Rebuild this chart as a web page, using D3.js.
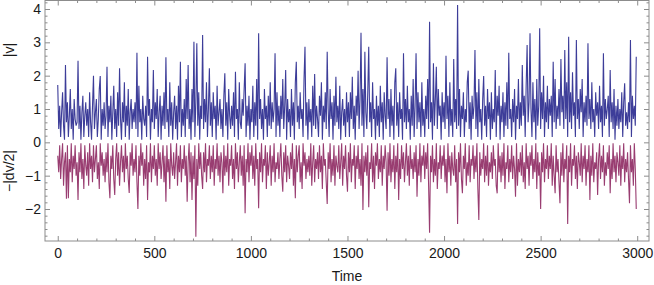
<!DOCTYPE html>
<html>
<head>
<meta charset="utf-8">
<script src="https://cdn.jsdelivr.net/npm/d3@7"></script>
<style>
  body { margin: 0; background: #fff; }
  text { font-family: "Liberation Sans", Arial, sans-serif; }
</style>
</head>
<body>
<svg class="chart-svg" width="654" height="285"></svg>
<script>
// samples every 5 time units, t = 0 .. 2995
var timeStep = 5;

var vAbs = [
  1.72,0.4,1.1,0.16,0.9,1.5,0.5,0.08,2.32,0.6,
  1.2,0.16,0.8,1.6,0.4,1.0,0.08,1.3,0.7,0.5,
  0.6,2.45,0.4,1.1,0.08,0.9,1.4,0.16,0.8,1.2,
  0.5,1.0,0.16,1.5,0.6,0.08,1.1,2.0,0.4,0.9,
  1.3,0.16,0.7,1.6,1.99,0.08,1.0,0.5,1.2,0.4,
  0.8,2.27,0.16,1.1,0.6,1.4,0.08,0.9,1.7,0.4,
  1.0,0.16,1.5,0.5,2.22,0.7,0.08,1.2,0.6,1.8,
  0.16,1.1,0.5,1.6,0.08,0.9,1.3,0.4,1.0,0.6,
  1.2,0.4,2.69,0.16,1.7,0.6,1.0,0.08,1.4,0.7,
  0.5,1.1,0.16,2.57,0.8,1.3,0.08,1.0,0.6,2.17,
  0.4,1.2,0.7,1.6,0.16,0.9,1.4,0.08,1.1,0.5,
  1.5,0.4,2.55,0.6,1.0,0.16,1.8,0.5,1.2,0.08,
  0.9,1.4,0.4,1.1,0.08,1.7,0.6,2.42,0.16,1.0,
  0.5,1.3,0.16,1.9,0.7,2.32,0.4,1.0,0.08,1.6,
  0.6,3.02,0.16,1.2,2.97,0.5,1.5,0.08,1.1,0.7,
  3.22,0.4,1.3,0.6,1.8,0.16,1.0,2.22,0.5,1.2,
  0.16,1.5,0.7,1.1,0.08,1.7,0.5,0.9,1.3,0.4,
  1.0,0.16,1.4,2.07,0.5,1.2,0.08,1.6,0.8,0.4,
  1.1,0.5,1.5,0.16,2.12,0.7,1.0,0.08,1.8,0.6,
  0.4,1.3,0.8,1.6,2.37,0.16,1.1,0.5,1.4,0.08,
  1.0,0.6,1.7,0.16,1.2,0.5,1.9,0.08,3.27,0.7,
  1.3,0.4,1.0,0.08,1.6,0.7,1.1,0.16,1.4,0.5,
  1.8,0.4,1.2,0.6,1.0,2.67,0.16,1.5,0.5,1.1,
  0.16,1.4,0.7,1.9,0.4,1.1,2.17,0.08,1.3,0.6,
  1.0,0.16,1.6,0.5,1.2,0.08,1.8,2.42,0.6,1.1,
  0.4,1.5,0.7,1.0,0.16,1.9,2.87,0.5,1.2,0.08,
  1.3,0.6,1.0,0.16,1.7,0.5,2.05,0.4,1.1,0.7,
  0.16,1.4,0.8,1.8,0.08,1.1,0.6,1.5,0.4,2.72,
  1.0,0.16,1.6,0.7,1.2,0.08,1.4,0.5,1.97,0.6,
  1.1,0.4,1.7,0.08,0.9,1.3,0.5,1.0,0.16,1.5,
  0.6,1.2,0.16,1.5,0.7,1.97,0.4,1.1,0.08,1.4,
  0.8,2.15,0.4,1.3,3.29,0.5,1.6,0.16,2.72,0.9,
  0.4,1.5,2.87,0.6,1.2,0.16,1.8,0.7,1.0,0.08,
  1.4,0.5,1.1,0.16,1.7,0.6,1.2,0.08,1.5,0.8,
  0.4,2.55,0.7,1.3,0.16,1.6,0.5,1.1,0.08,1.8,
  2.22,0.5,1.2,0.16,1.5,0.7,1.0,0.08,2.67,0.6,
  1.3,0.4,1.7,0.6,1.0,0.08,1.4,0.5,1.9,0.16,
  1.1,2.67,0.4,1.5,0.6,1.2,0.16,1.8,0.5,1.0,
  0.16,1.4,0.7,1.9,0.4,3.62,0.6,1.2,0.08,2.37,
  0.5,1.3,2.27,0.4,1.6,0.8,1.1,0.08,1.5,0.6,
  1.2,0.4,2.6,0.7,1.4,0.16,1.8,0.5,1.0,0.16,
  2.5,0.6,1.3,0.4,4.12,0.5,1.6,0.16,1.1,0.7,
  1.5,0.16,1.0,0.6,1.8,2.15,0.4,1.2,0.08,1.4,
  0.7,1.1,2.77,0.4,1.5,0.16,1.9,0.6,1.0,0.08,
  1.3,1.99,0.5,1.1,0.16,1.6,0.7,1.2,0.08,1.5,
  0.4,1.0,0.6,2.17,0.16,1.4,0.8,1.7,0.08,1.1,
  0.6,1.5,0.16,1.2,0.5,1.8,0.4,2.69,0.7,1.0,
  0.16,1.3,0.6,1.6,0.08,1.1,0.7,1.9,0.4,1.2,
  0.5,2.32,0.8,1.4,0.16,1.7,2.92,0.6,1.2,3.27,
  1.0,0.16,1.8,0.6,1.3,0.08,1.9,0.5,1.1,3.42,
  0.4,1.5,0.7,2.0,0.16,1.2,0.6,1.7,0.4,1.3,
  0.8,1.4,0.16,2.42,0.6,1.9,0.4,1.1,0.7,1.6,
  0.5,2.5,0.9,1.4,0.4,2.77,0.7,1.8,0.16,3.17,
  0.6,1.5,0.4,2.1,0.8,1.2,0.16,3.07,0.7,1.3,
  0.4,1.6,0.9,1.9,0.16,1.2,0.6,1.4,0.5,2.97,
  0.7,1.3,0.4,1.8,0.6,1.0,0.16,1.5,0.8,1.2,
  0.4,1.7,0.6,1.1,0.16,2.67,0.5,1.3,0.7,1.0,
  1.4,0.16,2.17,0.6,1.2,0.4,1.6,0.08,1.1,0.5,
  1.3,0.4,1.0,0.6,1.5,0.16,1.2,1.77,0.5,0.9,
  0.4,1.2,0.6,3.07,0.16,1.4,0.7,1.1,0.5,2.57
];

var dvHalf = [
  -0.4,-0.9,-0.09,-1.1,-0.5,-0.03,-1.3,-0.6,-0.3,-1.69,
  -0.09,-1.68,-0.5,-0.9,-0.03,-1.2,-0.4,-0.8,-0.09,-1.0,
  -0.6,-1.73,-0.3,-0.9,-0.03,-1.1,-0.5,-1.4,-0.09,-0.7,
  -1.0,-0.3,-1.3,-0.03,-0.8,-0.4,-1.2,-0.09,-0.9,-0.5,
  -0.09,-1.1,-0.6,-1.4,-0.03,-0.7,-0.3,-1.0,-0.5,-1.2,
  -0.3,-0.9,-0.03,-1.2,-1.68,-0.4,-0.8,-0.09,-1.1,-1.58,
  -0.5,-0.03,-1.0,-0.3,-1.3,-0.6,-0.09,-0.9,-0.4,-1.2,
  -0.03,-0.8,-0.4,-1.1,-1.52,-0.3,-0.7,-0.03,-1.0,-0.5,
  -0.9,-0.09,-1.2,-2.0,-0.4,-1.0,-0.03,-0.7,-0.3,-1.3,
  -0.5,-1.1,-0.09,-1.73,-0.6,-0.9,-0.03,-1.2,-0.4,-0.8,
  -0.09,-1.0,-0.5,-1.3,-0.03,-0.8,-0.3,-1.1,-0.6,-0.09,
  -1.2,-0.4,-1.78,-0.09,-0.9,-0.5,-1.4,-0.03,-0.7,-1.0,
  -0.3,-1.1,-0.6,-0.03,-1.3,-0.4,-0.9,-0.09,-1.2,-0.5,
  -0.8,-0.09,-1.0,-0.4,-1.78,-0.6,-0.03,-1.2,-0.3,-1.73,
  -0.4,-1.1,-0.09,-2.83,-0.5,-1.3,-0.03,-0.8,-0.3,-1.0,
  -1.4,-0.3,-0.9,-0.03,-1.2,-0.5,-0.7,-0.09,-1.1,-0.4,
  -0.9,-0.09,-1.3,-0.5,-0.8,-0.03,-1.0,-0.4,-1.2,-0.3,
  -0.6,-1.53,-0.09,-1.0,-0.4,-0.9,-0.03,-1.3,-0.5,-0.7,
  -0.09,-1.1,-0.5,-1.4,-0.03,-0.8,-0.3,-1.2,-0.6,-0.09,
  -1.0,-0.4,-1.3,-0.09,-2.13,-0.5,-0.9,-0.03,-1.2,-0.3,
  -0.7,-0.09,-1.1,-0.4,-1.3,-0.03,-0.8,-0.5,-1.98,-0.3,
  -0.9,-0.03,-1.2,-0.5,-0.7,-0.09,-1.4,-0.3,-1.0,-0.6,
  -0.09,-1.3,-0.4,-0.9,-0.03,-1.2,-0.6,-0.8,-0.3,-1.1,
  -0.5,-0.03,-1.0,-1.48,-0.3,-0.9,-0.09,-1.2,-0.4,-0.7,
  -1.1,-0.3,-0.8,-0.03,-1.3,-0.5,-1.68,-0.09,-0.9,-0.4,
  -0.09,-1.2,-0.6,-1.4,-0.03,-0.7,-0.3,-1.1,-0.5,-0.9,
  -0.4,-1.0,-0.03,-1.3,-0.6,-0.09,-1.2,-0.5,-0.8,-0.3,
  -1.1,-0.09,-0.9,-0.4,-1.4,-0.03,-0.7,-0.5,-1.2,-1.85,
  -0.3,-0.8,-0.03,-1.2,-0.5,-1.0,-0.09,-1.3,-0.4,-0.7,
  -0.9,-0.09,-1.1,-0.6,-0.03,-1.3,-0.4,-0.8,-0.09,-1.0,
  -1.48,-0.3,-0.9,-0.03,-1.2,-0.5,-0.7,-0.09,-1.4,-0.4,
  -0.8,-0.09,-1.1,-0.5,-1.3,-0.03,-2.03,-0.4,-0.9,-0.3,
  -1.0,-0.09,-1.95,-0.6,-0.8,-0.03,-1.2,-0.4,-1.4,-0.3,
  -0.7,-0.03,-1.1,-0.5,-0.9,-0.09,-1.3,-0.4,-0.8,-0.09,
  -0.6,-2.05,-0.3,-1.0,-0.03,-1.2,-0.5,-0.9,-0.09,-1.4,
  -0.4,-0.9,-0.03,-1.73,-0.5,-1.1,-0.09,-0.8,-0.3,-1.2,
  -0.6,-0.03,-1.0,-0.4,-1.3,-0.09,-0.8,-0.5,-1.1,-0.3,
  -0.9,-0.09,-1.63,-0.5,-1.0,-0.03,-1.2,-0.4,-0.7,-0.09,
  -1.1,-0.3,-0.8,-0.03,-1.3,-2.71,-0.4,-0.9,-0.09,-1.2,
  -0.5,-1.0,-0.03,-1.4,-0.6,-0.8,-0.09,-1.1,-0.4,-0.7,
  -0.09,-1.2,-0.5,-1.53,-0.03,-0.9,-0.4,-1.3,-0.3,-0.8,
  -1.0,-0.09,-1.2,-0.5,-2.45,-0.3,-0.9,-0.03,-1.1,-1.53,
  -0.4,-0.8,-0.03,-1.3,-0.6,-1.0,-0.09,-1.2,-0.5,-0.7,
  -0.09,-1.1,-0.4,-0.9,-0.03,-1.4,-2.33,-0.3,-1.0,-0.5,
  -0.8,-0.03,-1.2,-0.4,-1.0,-0.09,-1.3,-0.6,-0.9,-0.3,
  -1.1,-0.09,-0.7,-0.5,-1.3,-1.53,-0.03,-0.9,-0.4,-1.2,
  -0.3,-1.0,-0.03,-1.4,-0.6,-0.8,-0.09,-1.2,-0.5,-0.9,
  -0.09,-1.1,-0.4,-0.8,-1.63,-0.03,-1.3,-0.5,-0.9,-0.3,
  -1.0,-0.09,-1.2,-0.6,-1.4,-0.03,-0.8,-0.4,-1.3,-0.3,
  -0.7,-0.09,-1.1,-0.5,-0.9,-0.03,-1.4,-0.3,-1.0,-0.6,
  -2.0,-0.3,-0.9,-0.03,-1.2,-0.5,-0.8,-0.09,-1.1,-0.4,
  -0.8,-0.03,-1.3,-0.4,-1.0,-1.53,-0.09,-0.9,-0.5,-1.2,
  -1.83,-0.3,-1.0,-0.03,-1.2,-0.5,-0.8,-0.09,-2.45,-0.4,
  -0.9,-0.03,-1.3,-0.5,-0.7,-0.09,-1.1,-0.4,-1.4,-0.3,
  -0.6,-1.0,-0.03,-1.2,-0.4,-0.8,-0.09,-1.3,-0.5,-0.9,
  -0.09,-1.73,-0.4,-1.0,-0.03,-1.2,-0.6,-0.8,-0.3,-1.58,
  -0.5,-0.03,-1.1,-0.4,-0.9,-0.09,-1.3,-0.6,-1.0,-0.3,
  -0.8,-0.09,-1.53,-0.5,-1.1,-0.03,-0.9,-0.4,-1.2,-0.3,
  -0.6,-1.0,-0.09,-1.3,-0.4,-0.8,-0.03,-1.2,-0.5,-0.9,
  -0.3,-1.1,-1.83,-0.09,-0.9,-0.5,-1.3,-0.03,-0.8,-2.0
];

var xTicks = [0, 500, 1000, 1500, 2000, 2500, 3000];
var yTicks = [-2, -1, 0, 1, 2, 3, 4];

var svg = d3.select(".chart-svg");

var frame = { left: 45, right: 649, top: 0.5, bottom: 241 };

var x = d3.scaleLinear().domain([-66, 3061]).range([frame.left, frame.right]);
var y = d3.scaleLinear().domain([-2.96, 4.255]).range([frame.bottom, frame.top]);

var frameColor = "#8c8c8c";

var xMinor = d3.range(0, 3001, 100).filter(function(d) { return d % 500 !== 0; });
var yMinor = d3.range(-28, 43, 2).map(function(d) { return d / 10; })
    .filter(function(d) { return Math.abs(d - Math.round(d)) > 1e-6; });

function styleAxis(g) {
    g.select(".domain").remove();
    g.selectAll("line").attr("stroke", frameColor);
    g.selectAll("text").attr("fill", "#1a1a1a").style("font-size", "14px")
        .style("font-family", "'Liberation Sans', Arial, sans-serif");
}

function fmt(d) { return d < 0 ? "\u2212" + Math.abs(d) : String(d); }

// bottom
svg.append("g").attr("transform", "translate(0," + frame.bottom + ")")
    .call(d3.axisBottom(x).tickValues(xTicks).tickSizeInner(-5).tickSizeOuter(0).tickPadding(7.4).tickFormat(fmt))
    .call(styleAxis);
svg.append("g").attr("transform", "translate(0," + frame.bottom + ")")
    .call(d3.axisBottom(x).tickValues(xMinor).tickSizeInner(-2.5).tickSizeOuter(0).tickFormat(""))
    .call(styleAxis);
// top
svg.append("g").attr("transform", "translate(0," + frame.top + ")")
    .call(d3.axisTop(x).tickValues(xTicks).tickSizeInner(-5).tickSizeOuter(0).tickFormat(""))
    .call(styleAxis);
svg.append("g").attr("transform", "translate(0," + frame.top + ")")
    .call(d3.axisTop(x).tickValues(xMinor).tickSizeInner(-2.5).tickSizeOuter(0).tickFormat(""))
    .call(styleAxis);
// left
svg.append("g").attr("transform", "translate(" + frame.left + ",0)")
    .call(d3.axisLeft(y).tickValues(yTicks).tickSizeInner(-5).tickSizeOuter(0).tickPadding(4).tickFormat(fmt))
    .call(styleAxis);
svg.append("g").attr("transform", "translate(" + frame.left + ",0)")
    .call(d3.axisLeft(y).tickValues(yMinor).tickSizeInner(-2.5).tickSizeOuter(0).tickFormat(""))
    .call(styleAxis);
// right
svg.append("g").attr("transform", "translate(" + frame.right + ",0)")
    .call(d3.axisRight(y).tickValues(yTicks).tickSizeInner(-5).tickSizeOuter(0).tickFormat(""))
    .call(styleAxis);
svg.append("g").attr("transform", "translate(" + frame.right + ",0)")
    .call(d3.axisRight(y).tickValues(yMinor).tickSizeInner(-2.5).tickSizeOuter(0).tickFormat(""))
    .call(styleAxis);

var line = d3.line()
    .x(function(d, i) { return x(i * timeStep); })
    .y(function(d) { return y(d); });

svg.append("path")
    .datum(vAbs)
    .attr("fill", "none")
    .attr("stroke", "#3d3d99")
    .attr("stroke-width", 1.1)
    .attr("d", line);

svg.append("path")
    .datum(dvHalf)
    .attr("fill", "none")
    .attr("stroke", "#993d71")
    .attr("stroke-width", 1.1)
    .attr("d", line);

svg.append("rect")
    .attr("x", frame.left).attr("y", frame.top)
    .attr("width", frame.right - frame.left).attr("height", frame.bottom - frame.top)
    .attr("fill", "none").attr("stroke", frameColor).attr("stroke-width", 1);

// axis titles
svg.append("text")
    .attr("transform", "translate(14," + 50 + ") rotate(-90)")
    .attr("text-anchor", "middle")
    .style("font-size", "14px").attr("fill", "#1a1a1a")
    .text("|v|");

svg.append("text")
    .attr("transform", "translate(14," + 171 + ") rotate(-90)")
    .attr("text-anchor", "middle")
    .style("font-size", "14px").attr("fill", "#1a1a1a")
    .text("\u2212|dv/2|");

svg.append("text")
    .attr("x", (frame.left + frame.right) / 2)
    .attr("y", 281)
    .attr("text-anchor", "middle")
    .style("font-size", "14px").attr("fill", "#1a1a1a")
    .text("Time");
</script>
</body>
</html>
